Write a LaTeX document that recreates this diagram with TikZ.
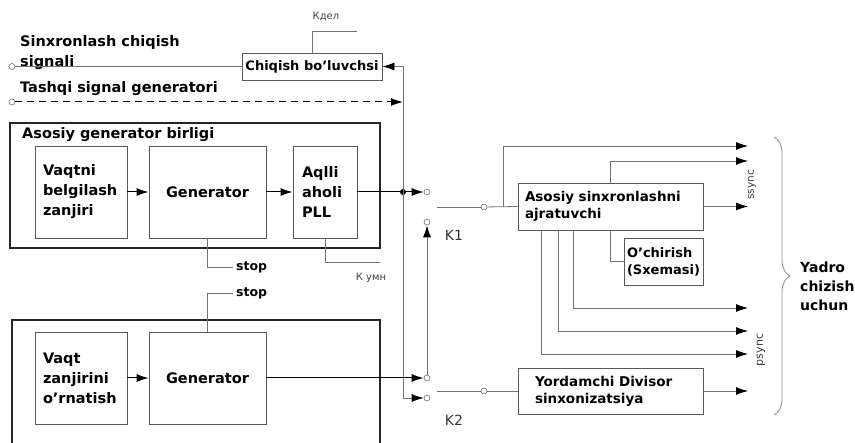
\documentclass[tikz,border=0pt]{standalone}
\usepackage{fontspec}
\setmainfont{DejaVu Sans}
\usepackage{tikz}
\usetikzlibrary{arrows.meta,positioning,calc,decorations.pathreplacing}

\begin{document}
\begin{tikzpicture}[x=1pt,y=-1pt,
  lbl/.style={font=\bfseries\fontsize{14.5}{20}\selectfont,inner sep=0pt},
  blk/.style={draw=black!65,line width=0.8pt,font=\bfseries\fontsize{14.5}{20}\selectfont,inner sep=0pt},
  sblk/.style={draw=black!65,line width=0.8pt,font=\bfseries\fontsize{13.5}{17}\selectfont,align=left,inner sep=0pt},
  unit/.style={draw=black!85,line width=1.5pt},
  wire/.style={draw=black!55,line width=0.8pt},
  sig/.style={draw=black,line width=1pt},
  tip/.style={-{Latex[length=12pt,width=8pt,color=black]}},
  contact/.style={circle,draw=black!50,fill=white,line width=0.7pt,minimum size=6pt,inner sep=0pt},
  jdot/.style={circle,fill=black,minimum size=6pt,inner sep=0pt},
  small/.style={font=\fontsize{10}{12}\selectfont,text=black!75,inner sep=0pt},
  brace/.style={decorate,decoration={brace,amplitude=16pt},draw=black!45,line width=0.8pt}
]
\useasboundingbox (0,0) rectangle (855,443);

% inputs and output divider
\node[lbl,align=left,anchor=north west] (synclbl) at (20,35) {Sinxronlash chiqish\\signali};
\node[lbl,anchor=base west] (extlbl) at (20,93) {Tashqi signal generatori};
\node[blk,minimum width=140pt,minimum height=27pt,font=\bfseries\fontsize{13}{15}\selectfont] (chiq) at (312,66.5) {Chiqish bo’luvchsi};
\node[small] (kdel) at (326,17) {Кдел};
\coordinate (kdelE) at (357,31);
\node[contact] (sout) at (12,66.5) {};
\node[contact] (tin) at (12,102) {};
\coordinate (dashE) at (403,102);
\draw[wire] (sout) -- (chiq.west);
\draw[wire] (chiq.north) |- (kdelE);
\draw[sig,dash pattern=on 7pt off 5pt,tip] (tin) -- (dashE);

% main generator unit
\node[unit,minimum width=370pt,minimum height=125pt] (unitA) at (195,185.5) {};
\node[lbl,anchor=base west] (unitAlbl) at (22,139) {Asosiy generator birligi};
\node[blk,align=left,text width=76pt,inner xsep=8pt,minimum height=92pt] (vaqt1) at (81,192) {Vaqtni\\belgilash\\zanjiri};
\node[blk,minimum width=117pt,minimum height=92pt] (gen1) at (207.5,192) {Generator};
\node[blk,align=left,text width=46pt,inner xsep=9pt,minimum height=92pt] (pll) at (325,192) {Aqlli\\aholi\\PLL};
\draw[sig,tip] (vaqt1) -- (gen1);
\draw[sig,tip] (gen1) -- (pll);
\coordinate (stop1c) at (233,267);
\node[lbl,font=\bfseries\fontsize{12.5}{14}\selectfont,anchor=west] (stop1) at (236,267) {stop};
\draw[wire] (gen1.south) |- (stop1c);
\coordinate (kumnE) at (380,262);
\node[small] (kumn) at (371,278) {К умн};
\draw[wire] (pll.south) |- (kumnE);

% second generator unit
\draw[unit] (12,443) |- (380,320) -- (380,443);
\node[blk,align=left,text width=76pt,inner xsep=8pt,minimum height=92pt] (vaqt2) at (81,378) {Vaqt\\zanjirini\\o’rnatish};
\node[blk,minimum width=117pt,minimum height=92pt] (gen2) at (207.5,378) {Generator};
\draw[sig,tip] (vaqt2) -- (gen2);
\coordinate (stop2c) at (233,293);
\node[lbl,font=\bfseries\fontsize{12.5}{14}\selectfont,anchor=west] (stop2) at (236,293) {stop};
\draw[wire] (gen2.north) |- (stop2c);

% switches K1, K2
\node[jdot] (j1) at (403,192) {};
\node[contact] (k1a) at (427,192) {};
\node[contact] (k1b) at (427,222) {};
\node[contact] (k2a) at (427,378) {};
\node[contact] (k2b) at (427,398) {};
\coordinate (busT) at (403,66.5);
\coordinate (busB) at (403,398);
\draw[wire] (busB) -- (busT);
\draw[wire,tip] (busT) -- (chiq.east);
\draw[wire,tip] (busB) -- (k2b);
\draw[sig] (pll) -- (j1);
\draw[sig,tip] (j1) -- (k1a);
\draw[sig,tip] (gen2) -- (k2a);
\draw[wire,tip] (k2a) -- (k1b);
\node[font=\fontsize{14}{16}\selectfont,text=black!80] (k1lbl) at (454,235) {K1};
\node[font=\fontsize{14}{16}\selectfont,text=black!80] (k2lbl) at (454,420) {K2};
\coordinate (k1p) at (437,207);
\node[contact] (k1o) at (484,207) {};
\coordinate (k2p) at (437,391);
\node[contact] (k2o) at (484,391) {};

% separators
\node[sblk,text width=171pt,inner xsep=7pt,minimum height=47pt] (asos) at (610.5,206.5) {Asosiy sinxronlashni\\ajratuvchi};
\node[sblk,minimum width=79pt,minimum height=47pt,font=\bfseries\fontsize{13}{17}\selectfont] (ochir) at (663.5,261.5) {O’chirish\\(Sxemasi)};
\node[sblk,text width=151pt,inner xsep=17pt,minimum height=46pt] (yord) at (610.5,391) {Yordamchi Divisor\\sinxonizatsiya};
\draw[wire] (k1p) -- (k1o);
\draw[wire] (k1o) -- (asos.west);
\draw[wire] (k2p) -- (k2o);
\draw[wire] (k2o) -- (yord.west);

% outputs
\coordinate (br) at (503,207);
\coordinate (o1) at (748,146);
\coordinate (o2) at (748,161);
\coordinate (o3) at (748,206.5);
\coordinate (o4) at (748,308);
\coordinate (o5) at (748,331);
\coordinate (o6) at (748,354);
\coordinate (o7) at (748,391);
\draw[wire,tip] (br) |- (o1);
\draw[wire,tip] (asos.north) |- (o2);
\draw[wire,tip] (asos.east) -- (o3);
\draw[wire] (asos.south) |- (ochir.west);
\draw[wire,tip] ($(asos.south west)+(56,0)$) |- (o4);
\draw[wire,tip] ($(asos.south west)+(41,0)$) |- (o5);
\draw[wire,tip] ($(asos.south west)+(24,0)$) |- (o6);
\draw[wire,tip] (yord.east) -- (o7);
\node[small,rotate=90,font=\fontsize{10.5}{12}\selectfont] (ssync) at (752,185) {ssync};
\node[small,rotate=90,font=\fontsize{11}{12}\selectfont] (psync) at (761,350) {psync};

% core
\draw[brace] (774,137) -- (774,415);
\node[lbl,font=\bfseries\fontsize{14}{19}\selectfont,align=left,anchor=north west] (yadro) at (800,262) {Yadro\\chizish\\uchun};
\end{tikzpicture}
\end{document}
